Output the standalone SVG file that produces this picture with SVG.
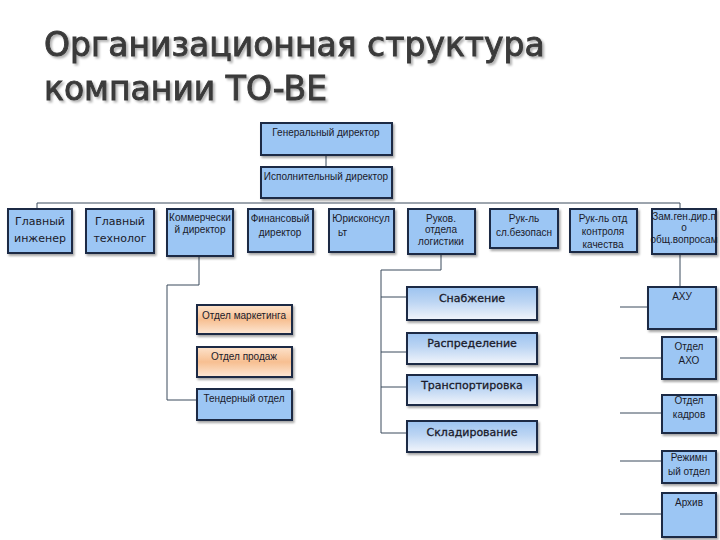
<svg xmlns="http://www.w3.org/2000/svg" width="720" height="540" viewBox="0 0 720 540">
<defs>
<linearGradient id="gLog" x1="0" y1="0" x2="0" y2="1">
<stop offset="0" stop-color="#9cc3f0"/><stop offset="0.45" stop-color="#bcd5f3"/><stop offset="1" stop-color="#f2f5fb"/>
</linearGradient>
<linearGradient id="gOr" x1="0" y1="0" x2="0" y2="1">
<stop offset="0" stop-color="#fde3cc"/><stop offset="0.5" stop-color="#f7bf91"/><stop offset="1" stop-color="#fde8d6"/>
</linearGradient>
<filter id="sh" x="-10%" y="-10%" width="130%" height="140%">
<feDropShadow dx="1.5" dy="2" stdDeviation="1" flood-color="#000" flood-opacity="0.35"/>
</filter>
<filter id="tsh" x="-5%" y="-20%" width="110%" height="150%">
<feDropShadow dx="2" dy="2" stdDeviation="1" flood-color="#000" flood-opacity="0.3"/>
</filter>
</defs>
<style>
.b{fill:#9cc6f4;stroke:#1c2a44;stroke-width:2;filter:url(#sh)}
.lg{fill:url(#gLog);stroke:#1c2a44;stroke-width:2;filter:url(#sh)}
.or{fill:url(#gOr);stroke:#1c2a44;stroke-width:2;filter:url(#sh)}
.t{font-family:"Liberation Sans",Arial,sans-serif;font-size:10px;fill:#1a1a2a;text-anchor:middle}
.t2{font-family:"DejaVu Sans","Liberation Sans",sans-serif;font-size:11px;fill:#1a1a2a;text-anchor:middle}
.t3{font-family:"DejaVu Sans","Liberation Sans",sans-serif;font-size:11px;fill:#1a1a2a;text-anchor:middle;stroke:#1a1a2a;stroke-width:0.3}
.c{fill:none;stroke:#3b4a5c;stroke-width:1}
.title{font-family:"DejaVu Sans","Liberation Sans",sans-serif;font-size:33px;fill:#3a3a3a;stroke:#3a3a3a;stroke-width:0.9;filter:url(#tsh)}
</style>
<rect width="720" height="540" fill="#ffffff"/>
<g id="title">
<text class="title" x="44" y="56">Организационная структура</text>
<text class="title" x="44" y="100">компании TO-BE</text>
</g>
<g id="connectors">
<path class="c" d="M326 155V167"/>
<path class="c" d="M37 208V203H680V208"/>
<path class="c" d="M199 256V285H167V400H197"/>
<path class="c" d="M441 254V270H381V433H407M381 297H407M381 352H407M381 387H407"/>
<path class="c" d="M680 254V288"/>
<path class="c" d="M620 307H648M620 358H662M620 413H662M620 461H662M620 514H662"/>
</g>
<g id="gen"><rect class="b" x="261" y="123" width="131" height="32"/><text class="t" x="326" y="136">Генеральный директор</text></g>
<g id="exec"><rect class="b" x="261" y="167" width="131" height="31"/><text class="t" x="326" y="180">Исполнительный директор</text></g>
<g id="eng"><rect class="b" x="8" y="209" width="64" height="44"/><text class="t2" x="40" y="225">Главный</text><text class="t2" x="40" y="242">инженер</text></g>
<g id="tech"><rect class="b" x="86" y="209" width="68" height="44"/><text class="t2" x="120" y="225">Главный</text><text class="t2" x="120" y="242">технолог</text></g>
<g id="com"><rect class="b" x="167" y="209" width="66" height="47"/><text class="t" x="200" y="221" font-size="9">Коммерчески</text><text class="t" x="200" y="233" font-size="9">й директор</text></g>
<g id="fin"><rect class="b" x="248" y="209" width="65" height="43"/><text class="t" x="280" y="222">Финансовый</text><text class="t" x="280" y="236">директор</text></g>
<g id="law"><rect class="b" x="329" y="209" width="65" height="43"/><text class="t" x="361" y="222">Юрисконсул</text><text class="t" x="338" y="236" style="text-anchor:start">ьт</text></g>
<g id="logh"><rect class="b" x="408" y="209" width="67" height="45"/><text class="t" x="441" y="222" font-size="9">Руков.</text><text class="t" x="441" y="233" font-size="9">отдела</text><text class="t" x="441" y="245" font-size="9">логистики</text></g>
<g id="sec"><rect class="b" x="490" y="209" width="68" height="39"/><text class="t" x="524" y="222" font-size="9">Рук-ль</text><text class="t" x="524" y="236" font-size="9">сл.безопасн</text></g>
<g id="qc"><rect class="b" x="570" y="209" width="67" height="43"/><text class="t" x="603" y="222" font-size="9">Рук-ль отд</text><text class="t" x="603" y="235" font-size="9">контроля</text><text class="t" x="603" y="248" font-size="7">качества</text></g>
<g id="zam"><rect class="b" x="652" y="209" width="64" height="45"/><text class="t" x="684" y="220" font-size="7.5">Зам.ген.дир.п</text><text class="t" x="684" y="231" font-size="7.5">о</text><text class="t" x="684" y="243" font-size="7.5">общ.вопросам</text></g>
<g id="mkt"><rect class="or" x="197" y="305" width="95" height="29"/><text class="t" x="244" y="319" font-size="9">Отдел маркетинга</text></g>
<g id="sales"><rect class="or" x="197" y="347" width="95" height="30"/><text class="t" x="244" y="360" font-size="9">Отдел продаж</text></g>
<g id="tender"><rect class="b" x="197" y="389" width="95" height="31"/><text class="t" x="244" y="402" font-size="9">Тендерный отдел</text></g>
<g id="supply"><rect class="lg" x="407" y="287" width="130" height="33"/><text class="t3" x="472" y="302">Снабжение</text></g>
<g id="distr"><rect class="lg" x="407" y="333" width="130" height="31"/><text class="t3" x="472" y="347">Распределение</text></g>
<g id="trans"><rect class="lg" x="407" y="375" width="130" height="30"/><text class="t3" x="472" y="389">Транспортировка</text></g>
<g id="store"><rect class="lg" x="407" y="421" width="130" height="31"/><text class="t3" x="472" y="436">Складирование</text></g>
<g id="ahu"><rect class="b" x="648" y="287" width="68" height="42"/><text class="t" x="682" y="300">АХУ</text></g>
<g id="aho"><rect class="b" x="662" y="337" width="54" height="42"/><text class="t" x="689" y="350">Отдел</text><text class="t" x="689" y="364">АХО</text></g>
<g id="hr"><rect class="b" x="662" y="395" width="54" height="38"/><text class="t" x="689" y="404">Отдел</text><text class="t" x="689" y="418">кадров</text></g>
<g id="reg"><rect class="b" x="662" y="451" width="54" height="32"/><text class="t" x="689" y="461">Режимн</text><text class="t" x="689" y="475">ый отдел</text></g>
<g id="arch"><rect class="b" x="662" y="493" width="54" height="44"/><text class="t" x="689" y="506">Архив</text></g>
</svg>
